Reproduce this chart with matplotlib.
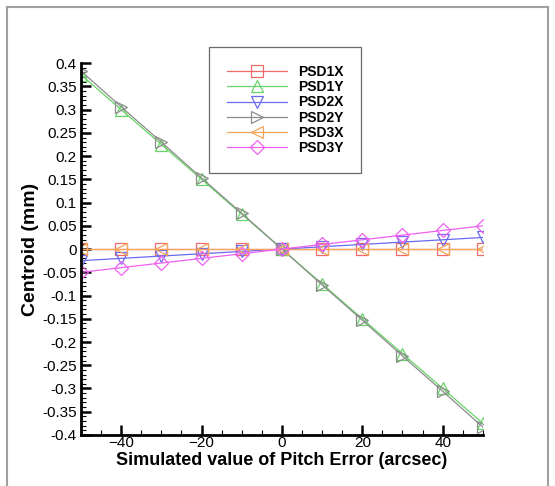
import matplotlib.pyplot as plt
from matplotlib.lines import Line2D
from matplotlib.ticker import MultipleLocator

plt.rcParams['font.family'] = ['Liberation Sans', 'DejaVu Sans']

# pitch error samples (arcsec) and centroid shifts (mm)
pitch = [-50, -40, -30, -20, -10, 0, 10, 20, 30, 40, 50]
psd1x = [0, 0, 0, 0, 0, 0, 0, 0, 0, 0, 0]
psd1y = [0.375, 0.3, 0.225, 0.15, 0.075, 0, -0.075, -0.15, -0.225, -0.3, -0.375]
psd2x = [-0.025, -0.02, -0.015, -0.01, -0.005, 0, 0.005, 0.01, 0.015, 0.02, 0.025]
psd2y = [0.383, 0.306, 0.23, 0.153, 0.077, 0, -0.077, -0.153, -0.23, -0.306, -0.383]
psd3x = [0, 0, 0, 0, 0, 0, 0, 0, 0, 0, 0]
psd3y = [-0.05, -0.04, -0.03, -0.02, -0.01, 0, 0.01, 0.02, 0.03, 0.04, 0.05]

series = [
    ('PSD1X', psd1x, '#f06a6a', 's'),
    ('PSD1Y', psd1y, '#66d466', '^'),
    ('PSD2X', psd2x, '#6a6af0', 'v'),
    ('PSD2Y', psd2y, '#8c8c8c', '>'),
    ('PSD3X', psd3x, '#f5a55a', '<'),
    ('PSD3Y', psd3y, '#f060f0', 'D'),
]

fig = plt.figure(figsize=(5.55, 4.86), dpi=100)
ax = fig.add_axes([0.146, 0.105, 0.724, 0.765])

for name, vals, col, mk in series:
    ms = 7 if mk == 'D' else 9
    ax.plot(pitch, vals, color=col, lw=0.9, marker=mk, ms=ms,
            mfc='none', mec=col, mew=0.9, label=name)

ax.set_xlim(-50, 50)
ax.set_ylim(-0.4, 0.4)
ax.xaxis.set_major_locator(MultipleLocator(20))
ax.xaxis.set_minor_locator(MultipleLocator(5))
ax.yaxis.set_major_locator(MultipleLocator(0.05))
ax.yaxis.set_minor_locator(MultipleLocator(0.01))
ax.yaxis.set_major_formatter(plt.FuncFormatter(lambda v, p: f'{v:g}' if abs(v) > 1e-9 else '0'))

for side in ['top', 'right']:
    ax.spines[side].set_visible(False)
for side in ['left', 'bottom']:
    ax.spines[side].set_linewidth(2)
ax.tick_params(which='major', direction='in', length=7, width=1.8, labelsize=11, pad=3)
ax.tick_params(which='minor', direction='in', length=3.5, width=0.8)
ax.tick_params(axis='x', which='major', pad=1)

ax.set_xlabel('Simulated value of Pitch Error (arcsec)', fontsize=13, fontweight='bold', labelpad=1)
ax.set_ylabel('Centroid (mm)', fontsize=14, fontweight='bold', labelpad=2)

leg = ax.legend(loc='upper left', bbox_to_anchor=(0.318, 1.043), frameon=True, fancybox=False,
                edgecolor='#444444', fontsize=10, handlelength=4.3, labelspacing=0.08,
                borderpad=1.3, handletextpad=0.8, borderaxespad=0)
leg.get_frame().set_linewidth(0.9)
for t in leg.get_texts():
    t.set_fontweight('bold')

# outer gray frame
fx0, fx1, fy1 = 7 / 555, 548 / 555, 1 - 7 / 486
fig.add_artist(Line2D([fx0, fx0], [0, fy1], transform=fig.transFigure, color='#a0a0a0', lw=1.5))
fig.add_artist(Line2D([fx0, fx1], [fy1, fy1], transform=fig.transFigure, color='#a0a0a0', lw=1.5))
fig.add_artist(Line2D([fx1, fx1], [0, fy1], transform=fig.transFigure, color='#a0a0a0', lw=1.5))

fig.savefig('out.png', dpi=100)
